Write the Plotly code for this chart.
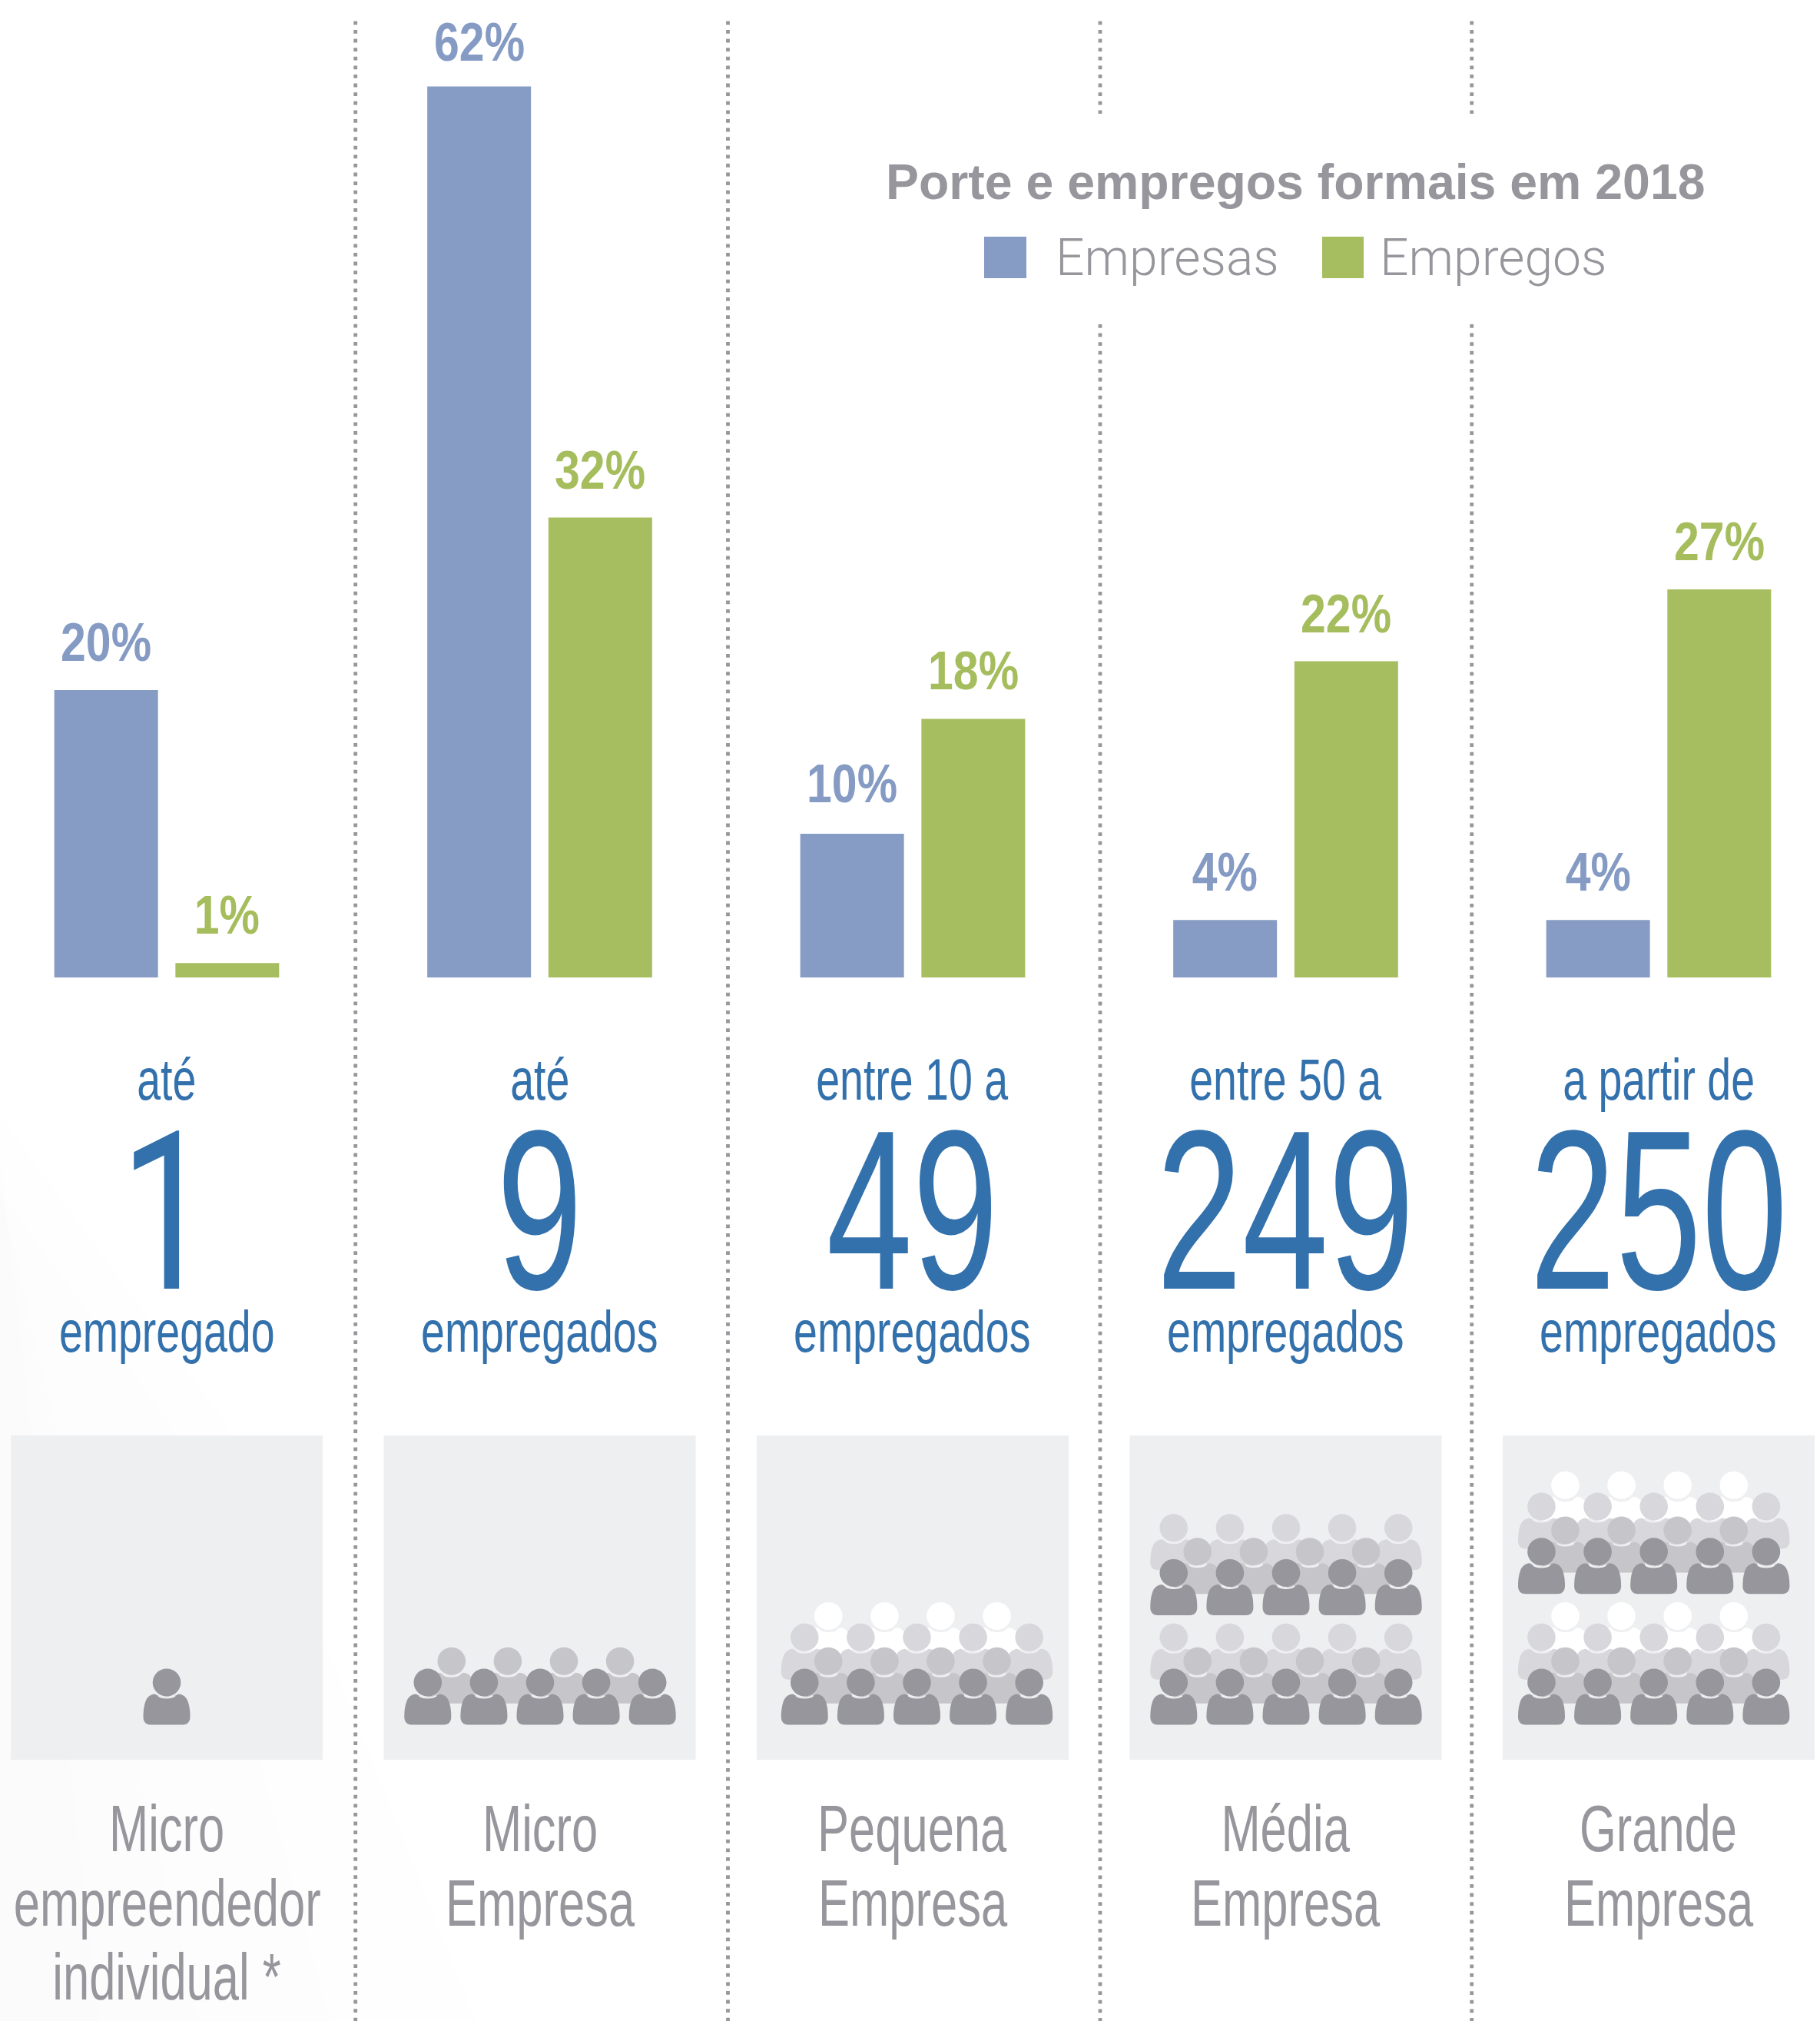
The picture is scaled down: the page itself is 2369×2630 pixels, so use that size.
import plotly.graph_objects as go

W, H = 2369, 2630

# ---- data ----
portes_l1 = ["Micro", "Micro", "Pequena", "Média", "Grande"]
portes_l2 = ["empreendedor", "Empresa", "Empresa", "Empresa", "Empresa"]
portes_l3 = ["individual *", "", "", "", ""]
faixa_topo = ["até", "até", "entre 10 a", "entre 50 a", "a partir de"]
faixa_num = ["1", "9", "49", "249", "250"]
faixa_base = ["empregado", "empregados", "empregados", "empregados", "empregados"]
empresas = [20, 62, 10, 4, 4]
empregos = [1, 32, 18, 22, 27]
titulo = "Porte e empregos formais em 2018"
legenda = ["Empresas", "Empregos"]
# icon rows per column, back to front; each block is a list of row names
blocos = [
    [["single"]],
    [["mid", "dark"]],
    [["white", "light", "mid", "dark"]],
    [["light", "mid", "dark"], ["light", "mid", "dark"]],
    [["white", "light", "mid", "dark"], ["white", "light", "mid", "dark"]],
]

# ---- style ----
BLUE, GREEN = "#869cc5", "#a6be5f"
TXT_BLUE, TXT_GREY = "#3371ad", "#97969c"
ROW = {"white": "#ffffff", "light": "#d8d7dc", "mid": "#c6c5ca", "dark": "#97969c", "single": "#97969c"}
BOX = "#eeeff1"
COL_X0, COL_DX = 217, 485.5
ICON_CX = [217, 703, 1193.5, 1674, 2152.7]
PX_PER_UNIT = 18.7
BASE_Y = 1272
SANS = "Liberation Sans"

px = lambda v: round(v / W, 6)
py = lambda v: round(1 - v / H, 6)

fig = go.Figure()
xs = list(range(5))
fig.add_bar(x=xs, y=empresas, name=legenda[0], marker=dict(color=BLUE, line_width=0), showlegend=False)
fig.add_bar(x=xs, y=empregos, name=legenda[1], marker=dict(color=GREEN, line_width=0), showlegend=False)

shapes, annots = [], []


def text(s, cx, base, size, color, family=SANS, weight=400, asc=0.905):
    annots.append(dict(text=s, xref="paper", yref="paper", x=px(cx), y=py(base - asc * size),
                       xanchor="center", yanchor="top", showarrow=False,
                       font=dict(family=family, size=size, color=color, weight=weight), borderpad=0, borderwidth=0))


def rect(x0, y0, x1, y1, color):
    shapes.append(dict(type="rect", xref="paper", yref="paper", x0=px(x0), x1=px(x1), y0=py(y0), y1=py(y1),
                       fillcolor=color, line_width=0, layer="below"))


# faint paper tone, lower left
for pts in ([(0, 1500), (130, 2630), (0, 2630)],
            [(0, 1550), (260, 2630), (0, 2630)],
            [(0, 1550), (220, 1850), (430, 2630), (0, 2630)],
            [(0, 1450), (330, 1900), (620, 2630), (0, 2630)]):
    path = "M" + " L".join(f"{px(a)},{py(b)}" for a, b in pts) + " Z"
    shapes.append(dict(type="path", xref="paper", yref="paper", path=path, fillcolor="#201800",
                       opacity=0.0045, line_width=0, layer="below"))

# dotted separators
for i, x in enumerate([462.7, 947.5, 1432, 1915.7]):
    segs = [(27.4, H)] if i < 2 else [(27.4, 148), (422, H)]
    for a, b in segs:
        shapes.append(dict(type="line", xref="paper", yref="paper", x0=px(x), x1=px(x), y0=py(a), y1=py(b),
                           line=dict(color=TXT_GREY, width=4.8, dash="4.8px,6.8px")))

K = 0.5523


def head(cx, cy, r=18.3, ry=18.0):
    return (f"M{px(cx-r)},{py(cy)} C{px(cx-r)},{py(cy-ry*K)} {px(cx-r*K)},{py(cy-ry)} {px(cx)},{py(cy-ry)} "
            f"C{px(cx+r*K)},{py(cy-ry)} {px(cx+r)},{py(cy-ry*K)} {px(cx+r)},{py(cy)} "
            f"C{px(cx+r)},{py(cy+ry*K)} {px(cx+r*K)},{py(cy+ry)} {px(cx)},{py(cy+ry)} "
            f"C{px(cx-r*K)},{py(cy+ry)} {px(cx-r)},{py(cy+ry*K)} {px(cx-r)},{py(cy)} Z ")


def body(cx, cy):
    P = lambda dx, dy: f"{px(cx+dx)},{py(cy+dy)}"
    return (f"M{P(-21,55)} C{P(-27,55)} {P(-30.5,51)} {P(-30.5,45)} C{P(-30.5,38)} {P(-30,32)} {P(-28,26)} "
            f"C{P(-26,19)} {P(-21,15)} {P(-15,15)} C{P(-9,20.5)} {P(9,20.5)} {P(15,15)} "
            f"C{P(21,15)} {P(26,19)} {P(28,26)} C{P(30,32)} {P(30.5,38)} {P(30.5,45)} "
            f"C{P(30.5,51)} {P(27,55)} {P(21,55)} Z ")


def arc(cx, cy):
    P = lambda dx, dy: f"{px(cx+dx)},{py(cy+dy)}"
    return f"M{P(-11,17)} C{P(-6,21)} {P(6,21)} {P(11,17)} "


DY = {"white": -86.5, "light": -58.8, "mid": -27.8, "dark": 0, "single": 0}

# panels and people
for i in range(5):
    cx = COL_X0 + i * COL_DX
    rect(cx - 203, 1868, cx + 203, 2290, BOX)
    ic = ICON_CX[i]
    n_blocks = len(blocos[i])
    for bi, rows in enumerate(blocos[i]):
        base_dark = 2189.5 - (n_blocks - 1 - bi) * (170.2 if "white" in rows else 142.5)
        for name in rows:
            cy = base_dark + DY[name]
            if name == "single":
                pos = [ic]
            elif name in ("dark", "light"):
                pos = [ic + k * 73.1 for k in (-2, -1, 0, 1, 2)]
            else:
                pos = [ic + k * 73.1 + 31 for k in (-2, -1, 0, 1)]
            pb = "".join(body(x, cy) for x in pos)
            ph = "".join(head(x, cy) for x in pos)
            pa = "".join(arc(x, cy) for x in pos)
            common = dict(type="path", xref="paper", yref="paper")
            shapes.append(dict(path=pb, fillcolor=ROW[name], line_width=0, **common))
            shapes.append(dict(path=pa, line=dict(color="#eeeff1", width=2.2), **common))
            shapes.append(dict(path=ph, fillcolor=ROW[name], line_width=0, **common))

    # text blocks
    text(faixa_topo[i], cx, 1431, 76, TXT_BLUE)
    if faixa_num[i] == "1":  # Liberation's 1 carries a foot the reference lacks
        text(faixa_num[i], cx, 1677, 288, TXT_BLUE, family="Roboto", weight=400, asc=0.927)
    else:
        text(faixa_num[i], cx, 1677, 296, TXT_BLUE)
    text(faixa_base[i], cx, 1759, 76, TXT_BLUE)
    text(portes_l1[i], cx, 2409, 86, TXT_GREY)
    text(portes_l2[i], cx, 2506, 86, TXT_GREY)
    if portes_l3[i]:
        text(portes_l3[i], cx, 2601.5, 86, TXT_GREY)

    # percentage labels, tied to the data scale
    for vals, off, col, nudge in ((empresas, -0.1624, "#859bc4", {1: -4, 2: 3}), (empregos, 0.1624, "#a5bd5d", {})):
        annots.append(dict(text=f"{vals[i]}%", x=i + off, y=vals[i], xref="x", yref="y",
                           xanchor="center", yanchor="bottom", yshift=36 - 0.212 * 71 + nudge.get(i, 0),
                           showarrow=False, font=dict(family=SANS, size=71, color=col, weight=700)))

# legend and title
text(titulo, 1686, 259, 64.4, TXT_GREY, weight=700)
rect(1281, 308, 1336, 362, BLUE)
rect(1721, 308, 1775, 362, GREEN)
text(legenda[0], 1519, 358, 66, TXT_GREY, family="Roboto", weight=300, asc=0.927)
text(legenda[1], 1944, 358, 66, TXT_GREY, family="Roboto", weight=300, asc=0.927)

fig.update_layout(
    width=W, height=H, margin=dict(l=0, r=0, t=0, b=0), autosize=False,
    paper_bgcolor="#ffffff", plot_bgcolor="rgba(0,0,0,0)",
    barmode="group", bargap=0.3504, bargroupgap=0.144,
    xaxis=dict(range=[(0 - COL_X0) / COL_DX, (W - COL_X0) / COL_DX], visible=False, fixedrange=True),
    yaxis=dict(range=[-(H - BASE_Y) / PX_PER_UNIT, BASE_Y / PX_PER_UNIT], visible=False, fixedrange=True),
    shapes=shapes, annotations=annots, showlegend=False,
)

post = """
document.body.style.margin='0';
var gd=document.getElementById('{plot_id}');
var F={76:0.73,296:0.68,288:0.75,86:0.715,71:0.83};
function cond(){gd.querySelectorAll('.annotation-text').forEach(function(t){
  if(t.getAttribute('data-cond'))return;
  var f=F[Math.round(parseFloat(t.style.fontSize))]||1;
  if(f!=1){t.setAttribute('textLength',t.getComputedTextLength()*f);t.setAttribute('lengthAdjust','spacingAndGlyphs');}
  t.setAttribute('data-cond','1');
});}
cond();
setTimeout(cond,200);
if(gd.on)gd.on('plotly_afterplot',cond);
"""
fig.write_html("out.html", post_script=post, config=dict(displayModeBar=False))
